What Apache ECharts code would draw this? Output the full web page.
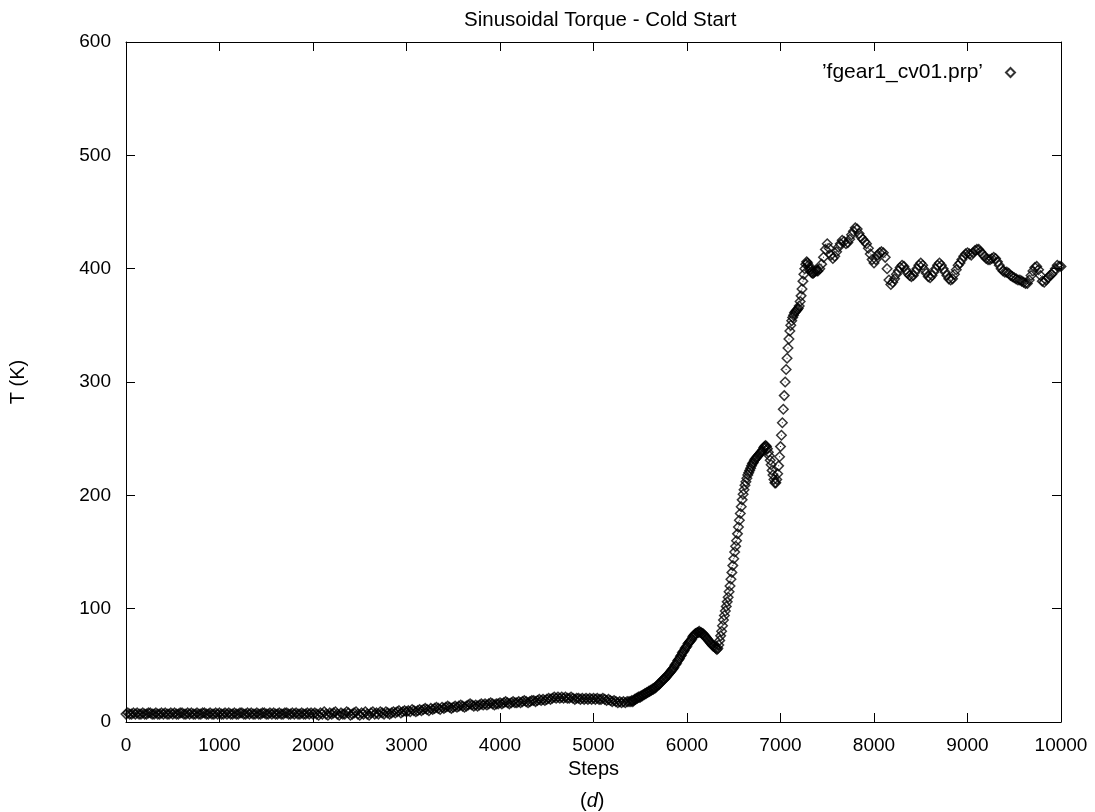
<!DOCTYPE html>
<html>
<head>
<meta charset="utf-8">
<title>Sinusoidal Torque - Cold Start</title>
<script src="https://cdn.jsdelivr.net/npm/echarts@6/dist/echarts.min.js"></script>
<style>
  html, body { margin: 0; padding: 0; background: #fff; }
  #chart { width: 1095px; height: 812px; }
</style>
</head>
<body>
<div id="chart"></div>
<script>
// temperature (K) against step
const seriesName = '\u2019fgear1_cv01.prp\u2019';

// steps 0 .. 5380, one point every 20 steps
const lowStart = 0, lowEvery = 20;
const tempLow = [
  7,8,7,7,8,7,8,7,7,8,7,7,8,8,7,7,8,7,7,8,7,8,7,7,8,
  7,8,7,7,8,8,7,7,8,7,8,7,7,8,7,7,8,8,7,7,8,7,7,8,7,
  8,7,7,8,7,8,7,7,8,7,7,8,8,7,7,8,7,8,7,7,8,7,7,8,8,
  7,7,8,7,8,7,7,8,7,7,8,8,7,7,8,7,8,7,7,8,7,7,8,7,8,
  7,8,7,6,8,7,9,7,6,8,7,8,9,7,6,8,7,7,9,8,6,7,8,9,7,
  6,8,7,9,7,6,8,9,7,8,7,9,8,7,9,8,7,8,9,8,9,10,8,9,10,
  9,10,9,11,10,9,10,11,10,11,12,11,10,12,11,12,13,12,11,13,12,13,14,13,12,
  13,14,13,14,15,14,13,14,15,16,15,14,15,14,15,16,15,16,15,16,17,16,15,16,16,
  17,16,17,18,17,16,17,18,17,17,18,17,18,19,18,17,18,19,19,18,19,20,19,20,19,
  20,21,20,21,22,21,22,21,22,21,22,21,21,22,21,20,21,21,20,21,20,21,20,21,20,
  21,20,21,20,20,21,20,19,20,19,18,19,18,17,18,17,18,17,18,18
];

// steps 5400 .. 7400, one point every 10 steps
const riseStart = 5400, riseEvery = 10;
const tempRise = [
  18,19,18,19,20,20,21,21,22,22,
  22,23,23,24,24,25,25,26,26,27,
  27,28,28,29,29,30,30,31,32,33,
  33,34,35,36,37,38,38,39,40,41,
  42,43,44,45,46,47,48,50,51,52,
  54,55,56,58,59,61,62,63,65,66,
  67,69,70,71,72,73,75,76,77,78,
  78,79,79,80,79,79,78,78,77,76,
  75,74,73,72,71,70,69,68,67,67,
  66,65,64,65,68,72,76,80,85,90,
  94,98,102,106,110,115,120,126,132,138,
  144,150,155,160,166,172,178,184,190,196,
  201,205,209,212,215,218,220,222,224,226,
  228,229,231,232,233,234,235,236,237,238,
  239,240,242,243,244,243,241,238,235,231,
  227,222,218,214,211,211,214,219,226,234,
  243,253,264,276,288,300,311,321,330,338,
  345,350,354,357,359,361,362,363,364,365,
  367,371,376,382,389,395,400,404,406,405,
  403,401,399,397,396,396,397,398,399,398,
  398
];

// steps 7420 .. 10000, one point every 20 steps
const highStart = 7420, highEvery = 20;
const tempHigh = [
  400,404,410,417,422,418,412,409,411,415,419,422,425,424,422,423,426,430,433,436,435,431,428,426,424,422,418,413,408,
  405,408,412,414,415,414,410,400,390,386,388,391,395,398,401,403,402,399,396,394,
  393,394,397,400,403,405,403,399,396,393,392,394,397,400,403,405,403,400,397,394,
  391,390,391,395,399,403,405,408,411,413,414,413,412,414,416,417,417,415,413,411,
  409,408,408,409,410,409,406,403,400,398,397,397,396,394,393,392,391,390,390,389,
  388,387,387,390,394,398,401,402,399,394,389,388,390,392,394,395,397,400,403,402,
  402
];

const xTicks = { min: 0, max: 10000, interval: 1000 };
const yTicks = { min: 0, max: 600, interval: 100 };

function toPairs(values, start, every) {
  return values.map((v, i) => [start + i * every, v]);
}
const points = []
  .concat(toPairs(tempLow, lowStart, lowEvery))
  .concat(toPairs(tempRise, riseStart, riseEvery))
  .concat(toPairs(tempHigh, highStart, highEvery));

const font = 'Liberation Sans, Arial, Helvetica, sans-serif';

const chart = echarts.init(document.getElementById('chart'));

function axisBase(extra) {
  return Object.assign({
    type: 'value',
    axisLine: { show: true, onZero: false, lineStyle: { color: '#000', width: 1 } },
    axisTick: { show: true, inside: true, length: 9, lineStyle: { color: '#000', width: 1 } },
    splitLine: { show: false },
    axisLabel: { color: '#000', fontSize: 19, fontFamily: font }
  }, extra);
}

const option = {
  backgroundColor: '#fff',
  animation: false,
  title: {
    text: 'Sinusoidal Torque - Cold Start',
    left: 459,
    top: 5,
    textStyle: { color: '#000', fontSize: 20.5, fontWeight: 'normal', fontFamily: font }
  },
  legend: {
    data: [seriesName],
    right: 74,
    top: 57,
    align: 'right',
    itemWidth: 9,
    itemHeight: 9,
    textStyle: { color: '#000', fontSize: 21, fontFamily: font, padding: [0, 18, 0, 0] }
  },
  grid: { left: 126, right: 34, top: 42, bottom: 90 },
  xAxis: [
    axisBase(Object.assign({
      position: 'bottom',
      name: 'Steps',
      nameLocation: 'middle',
      nameGap: 35,
      nameTextStyle: { color: '#000', fontSize: 20, fontFamily: font },
      axisLabel: { color: '#000', fontSize: 19, fontFamily: font, margin: 14, formatter: v => String(v) }
    }, xTicks)),
    axisBase(Object.assign({ position: 'top', axisLabel: { show: false } }, xTicks))
  ],
  yAxis: [
    axisBase(Object.assign({
      position: 'left',
      name: 'T (K)',
      nameLocation: 'middle',
      nameGap: 98,
      nameRotate: 90,
      nameTextStyle: { color: '#000', fontSize: 20, fontFamily: font },
      axisLabel: { color: '#000', fontSize: 19, fontFamily: font, margin: 15 }
    }, yTicks)),
    axisBase(Object.assign({ position: 'right', axisLabel: { show: false } }, yTicks))
  ],
  graphic: [{
    type: 'text',
    left: 580,
    top: 791,
    style: {
      text: '{n|(}{i|d}{n|)}',
      fill: '#000',
      rich: {
        n: { fontSize: 20, fontFamily: font, fill: '#000' },
        i: { fontSize: 20, fontFamily: font, fontStyle: 'italic', fill: '#000' }
      }
    }
  }],
  series: [
    {
      name: seriesName,
      type: 'scatter',
      data: points,
      symbol: 'diamond',
      symbolSize: 9.5,
      clip: false,
      itemStyle: { color: 'rgba(0,0,0,0)', borderColor: '#000', borderWidth: 1.5 },
      emphasis: { disabled: true },
      silent: true
    },
    {
      // gnuplot puts a tiny dot at the centre of each open diamond
      name: 'centre',
      type: 'scatter',
      data: points,
      symbol: 'rect',
      symbolSize: 1,
      clip: false,
      itemStyle: { color: '#000' },
      silent: true
    }
  ]
};

chart.setOption(option);
</script>
</body>
</html>
